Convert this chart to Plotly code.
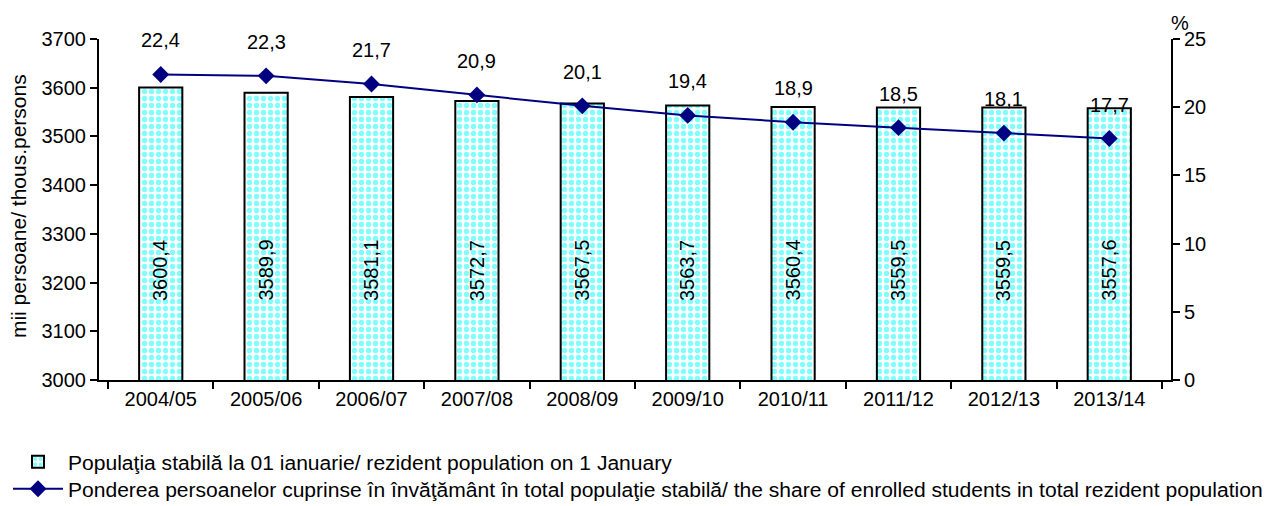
import plotly.graph_objects as go

years = ["2004/05", "2005/06", "2006/07", "2007/08", "2008/09",
         "2009/10", "2010/11", "2011/12", "2012/13", "2013/14"]
population = [3600.4, 3589.9, 3581.1, 3572.7, 3567.5, 3563.7, 3560.4, 3559.5, 3559.5, 3557.6]
share = [22.4, 22.3, 21.7, 20.9, 20.1, 19.4, 18.9, 18.5, 18.1, 17.7]

name_bar = "Populaţia stabilă la 01 ianuarie/ rezident population on 1 January"
name_line = ("Ponderea persoanelor cuprinse în învăţământ în total populaţie stabilă/ "
             "the share of enrolled students in total rezident population")
y_title = "mii persoane/ thous.persons"

def fmt(v):
    return f"{v:.1f}".replace(".", ",")

FAM = "Liberation Sans, Arial, sans-serif"
font = dict(family=FAM, size=20, color="black")
lfont = dict(family=FAM, size=21.05, color="black")

fig = go.Figure()
fig.add_trace(go.Bar(
    x=years, y=population, name=name_bar, width=0.41, legend="legend",
    marker=dict(color="white", line=dict(color="black", width=2),
                pattern=dict(shape=".", fgcolor="#00FFFF", bgcolor="white",
                             size=7, solidity=0.45, fillmode="overlay")),
    hoverinfo="skip",
))
fig.add_trace(go.Scatter(
    x=years, y=share, name=name_line, yaxis="y2", mode="lines+markers", legend="legend2",
    line=dict(color="#000080", width=2),
    marker=dict(symbol="diamond", size=13, color="#000080"),
))

annotations = []
for yr, p in zip(years, population):
    annotations.append(dict(x=yr, y=3225, xref="x", yref="y", text=fmt(p),
                            showarrow=False, textangle=-90, font=font))
for yr, s in zip(years, share):
    annotations.append(dict(x=yr, y=s, xref="x", yref="y2", text=fmt(s),
                            showarrow=False, yshift=34, font=font))
annotations.append(dict(x=1.0, y=1.0, xref="paper", yref="paper", text="%",
                        showarrow=False, xshift=20, yshift=29, font=font))
annotations.append(dict(x=0.0, y=0.51, xref="paper", yref="paper", text=y_title,
                        xanchor="center", yanchor="middle",
                        showarrow=False, textangle=-90, xshift=-81,
                        font=dict(family=FAM, size=21, color="black")))

leg_common = dict(orientation="v", xref="container", yref="container",
                  x=0.0, xanchor="left", yanchor="middle",
                  font=lfont, itemwidth=50, bgcolor="rgba(0,0,0,0)")

fig.update_layout(
    width=1282, height=506,
    margin=dict(l=91, r=119, t=31, b=134, autoexpand=False),
    paper_bgcolor="white", plot_bgcolor="white",
    font=font,
    showlegend=True,
    legend=dict(y=0.1028, **leg_common),
    legend2=dict(y=0.0494, **leg_common),
    xaxis=dict(type="category", showline=True, linecolor="black", linewidth=2,
               ticks="outside", tickson="boundaries", ticklen=7, tickcolor="black",
               tickwidth=2, showgrid=False, tickfont=font, tickangle=0),
    yaxis=dict(range=[3000, 3700], dtick=100, showline=True, linecolor="black",
               linewidth=2, ticks="outside", ticklen=7, tickcolor="black", tickwidth=2,
               showgrid=False, zeroline=False, tickfont=font),
    yaxis2=dict(range=[0, 25], dtick=5, overlaying="y", side="right", showline=True,
                linecolor="black", linewidth=2, ticks="outside", ticklen=7,
                tickcolor="black", tickwidth=2, showgrid=False, zeroline=False,
                tickfont=font),
    annotations=annotations,
)

fig.write_html("out.html")
